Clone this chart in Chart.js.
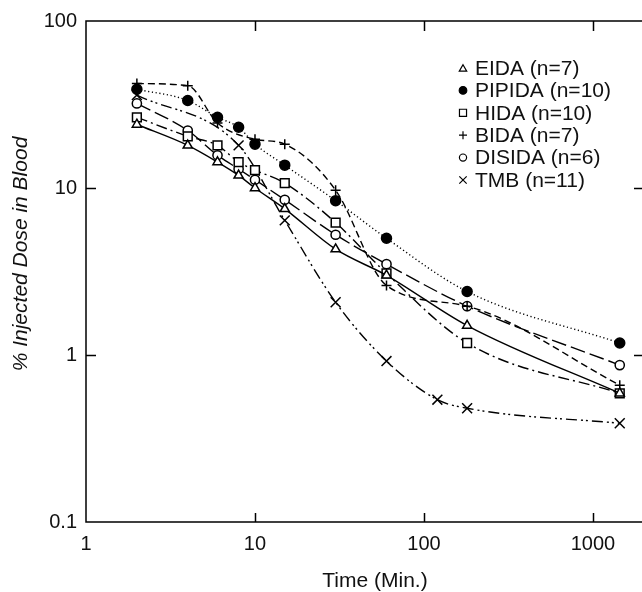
<!DOCTYPE html>
<html>
<head>
<meta charset="utf-8">
<script src="https://cdn.jsdelivr.net/npm/chart.js"></script>
<style>
  body { margin: 0; background: #fff; }
  canvas { display: block; }
</style>
</head>
<body>
<canvas id="blood-chart" width="642" height="592"></canvas>
<script>
  // time after injection (min) and % injected dose in blood
  var times = [2, 4, 6, 8, 10, 15, 30, 60, 120, 180, 1440];
  var eida = [24.0, 18.0, 14.3, 11.9, 10.0, 7.5, 4.3, 3.0, null, 1.5, 0.59];
  var pipida = [39, 33.4, 26.5, 23.1, 18.3, 13.7, 8.4, 5.0, null, 2.4, 1.18];
  var hida = [26.5, 20.4, 18.0, 14.3, 12.8, 10.7, 6.2, 3.08, null, 1.18, 0.59];
  var bida = [42.2, 41.0, 24.5, null, 19.6, 18.3, 9.7, 2.61, null, 1.96, 0.66];
  var disida = [32.1, 22.1, 15.7, 13.0, 11.2, 8.5, 5.25, 3.5, null, 1.96, 0.87];
  var tmb = [36, null, null, 18.0, null, 6.4, 2.07, 0.92, 0.54, 0.48, 0.39];

  var xTicks = [1, 10, 100, 1000];
  var yTicks = [0.1, 1, 10, 100];

  var FONT = "'Liberation Sans', Arial, Helvetica, sans-serif";

  function points(values) {
    return times.map((t, i) => ({ x: t, y: values[i] })).filter(p => p.y !== null);
  }

  var series = [
    { label: 'EIDA (n=7)', data: eida, style: 'triangle', radius: 5.3, legendRadius: 4.3, fill: '#fff', dash: [] },
    { label: 'PIPIDA (n=10)', data: pipida, style: 'circle', radius: 5, legendRadius: 3.8, fill: '#000', dash: [1.2, 2.6] },
    { label: 'HIDA (n=10)', data: hida, style: 'rect', radius: 6.2, legendRadius: 5, fill: '#fff', dash: [11, 4, 2, 4] },
    { label: 'BIDA (n=7)', data: bida, style: 'cross', radius: 5, legendRadius: 4, fill: '#fff', dash: [7, 4] },
    { label: 'DISIDA (n=6)', data: disida, style: 'circle', radius: 4.6, legendRadius: 3.6, fill: '#fff', dash: [15, 5] },
    { label: 'TMB (n=11)', data: tmb, style: 'crossRot', radius: 7, legendRadius: 5.2, fill: '#fff', dash: [11, 4, 2, 3, 2, 4] }
  ];

  var datasets = series.map(s => ({
    label: s.label,
    data: points(s.data),
    borderColor: '#000',
    borderWidth: 1.4,
    borderDash: s.dash,
    pointStyle: s.style,
    pointRadius: s.radius,
    pointBorderWidth: 1.5,
    pointBorderColor: '#000',
    pointBackgroundColor: s.fill,
    cubicInterpolationMode: 'monotone',
    fill: false,
    _legendRadius: s.legendRadius
  }));

  // frame (left, top, bottom), inward ticks, legend and axis titles
  var decorations = {
    id: 'decorations',
    afterDraw: function(chart) {
      var ctx = chart.ctx, a = chart.chartArea;
      var x = chart.scales.x, y = chart.scales.y;
      ctx.save();
      ctx.strokeStyle = '#000';
      ctx.lineWidth = 1.5;
      ctx.setLineDash([]);
      ctx.beginPath();
      ctx.moveTo(a.right, a.top);
      ctx.lineTo(a.left, a.top);
      ctx.lineTo(a.left, a.bottom);
      ctx.lineTo(a.right, a.bottom);
      xTicks.slice(1).forEach(v => {
        var px = Math.round(x.getPixelForValue(v)) + 0.5;
        ctx.moveTo(px, a.bottom); ctx.lineTo(px, a.bottom - 9);
        ctx.moveTo(px, a.top); ctx.lineTo(px, a.top + 10);
      });
      yTicks.slice(1, -1).forEach(v => {
        var py = Math.round(y.getPixelForValue(v)) + 0.5;
        ctx.moveTo(a.left, py); ctx.lineTo(a.left + 10, py);
        ctx.moveTo(a.right, py); ctx.lineTo(a.right - 8, py);
      });
      ctx.stroke();

      // legend
      ctx.font = '21px ' + FONT;
      ctx.textBaseline = 'middle';
      ctx.textAlign = 'left';
      chart.data.datasets.forEach((ds, i) => {
        var rowY = 68 + i * 22.4;
        ctx.fillStyle = ds.pointBackgroundColor;
        ctx.strokeStyle = '#000';
        ctx.lineWidth = 1.2;
        Chart.helpers.drawPoint(ctx, {
          pointStyle: ds.pointStyle, radius: ds._legendRadius, rotation: 0, borderWidth: 1.2
        }, 463, rowY + (ds.pointStyle === 'triangle' ? 1 : 0));
        ctx.fillStyle = '#111';
        ctx.fillText(ds.label, 475, rowY + 1);
      });

      // axis titles
      ctx.fillStyle = '#111';
      ctx.textAlign = 'center';
      ctx.font = '21px ' + FONT;
      ctx.fillText('Time (Min.)', 375, 581);
      ctx.translate(21, 254);
      ctx.rotate(-Math.PI / 2);
      ctx.font = 'italic 21px ' + FONT;
      ctx.fillText('% Injected Dose in Blood', 0, 0);
      ctx.restore();
    }
  };

  var config = {
    type: 'line',
    data: { datasets: datasets },
    options: {
      responsive: false,
      animation: false,
      layout: { autoPadding: false, padding: { top: 19, right: 0, left: 0, bottom: 0 } },
      plugins: {
        legend: { display: false },
        tooltip: { enabled: false }
      },
      scales: {
        x: {
          type: 'logarithmic',
          min: 1,
          max: 1950,
          afterBuildTicks: function(scale) { scale.ticks = xTicks.map(v => ({ value: v })); },
          afterFit: function(scale) { scale.height = 70; },
          grid: { display: false, drawTicks: false },
          border: { display: false },
          ticks: {
            autoSkip: false,
            maxRotation: 0,
            padding: 10,
            color: '#111',
            font: { family: FONT, size: 20 },
            callback: function(value) { return String(value); }
          }
        },
        y: {
          type: 'logarithmic',
          min: 0.1,
          max: 100,
          afterBuildTicks: function(scale) { scale.ticks = yTicks.map(v => ({ value: v })); },
          afterFit: function(scale) { scale.width = 86; },
          grid: { display: false, drawTicks: false },
          border: { display: false },
          ticks: {
            autoSkip: false,
            padding: 9,
            color: '#111',
            font: { family: FONT, size: 20 },
            callback: function(value) { return String(value); }
          }
        }
      }
    },
    plugins: [decorations]
  };

  new Chart(document.getElementById('blood-chart'), config);
</script>
</body>
</html>
